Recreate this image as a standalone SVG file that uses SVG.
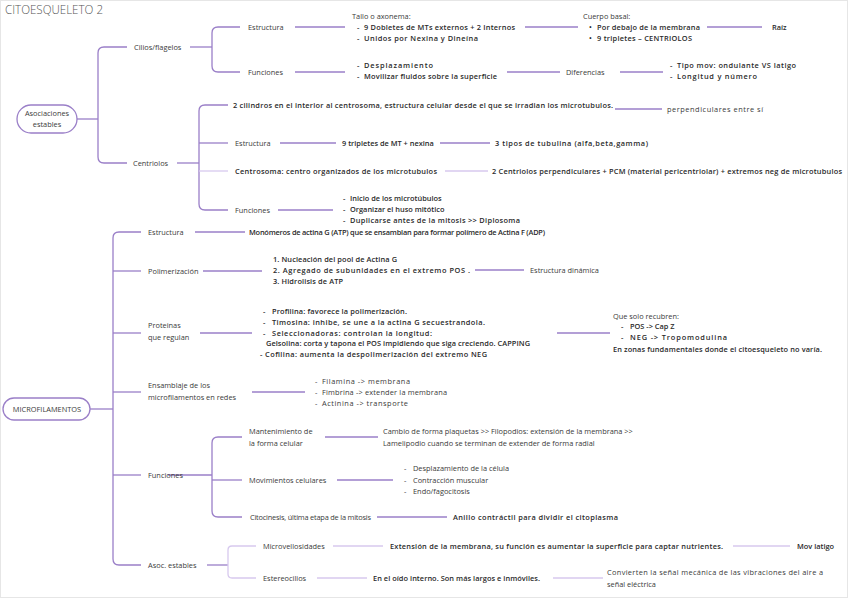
<svg xmlns="http://www.w3.org/2000/svg" width="848" height="599" viewBox="0 0 848 599">
<style>
text{font-family:"Open Sans","Liberation Sans",sans-serif;font-size:7.4px;fill:#3a3a3a}
.b{font-weight:600;fill:#2a2a2a}
.title{font-size:13px;fill:#555;font-weight:300}
.c path,.c line{stroke:#9a7fc8;stroke-width:1.3;fill:none}
.c .l{stroke:#d7c9ee}
.node{fill:#fff;stroke:#9a7fc8;stroke-width:1.3}
</style>
<rect x="0.5" y="0.5" width="847" height="597" fill="#fff" stroke="#e6e6e6"/>
<text class="title" x="5" y="14" textLength="98" lengthAdjust="spacingAndGlyphs">CITOESQUELETO 2</text>

<g class="c" id="connectors">
<line x1="77" y1="119" x2="98" y2="119"/>
<path d="M127 47 H104 Q98 47 98 53 V157 Q98 163 104 163 H127"/>
<line x1="190" y1="47" x2="212" y2="47"/>
<path d="M240 27 H218 Q212 27 212 33 V66 Q212 72 218 72 H240"/>
<line x1="295" y1="27" x2="345" y2="27"/>
<line x1="525" y1="27" x2="578" y2="27"/>
<line x1="707" y1="27" x2="762" y2="27"/>
<line x1="295" y1="72" x2="345" y2="72"/>
<line x1="507" y1="72" x2="560" y2="72"/>
<line x1="620" y1="72" x2="663" y2="72"/>
<line x1="177" y1="163" x2="199" y2="163"/>
<path d="M228 105 H205 Q199 105 199 111 V204 Q199 210 205 210 H228"/>
<line x1="199" y1="143" x2="228" y2="143"/>
<line class="l" x1="199" y1="171" x2="228" y2="171"/>
<line x1="615" y1="109" x2="662" y2="109"/>
<line x1="280" y1="143" x2="336" y2="143"/>
<line x1="440" y1="143" x2="490" y2="143"/>
<line class="l" x1="445" y1="171" x2="488" y2="171"/>
<line x1="278" y1="210" x2="333" y2="210"/>
<line x1="90" y1="409" x2="113" y2="409"/>
<path d="M141 232 H119 Q113 232 113 238 V559 Q113 565 119 565 H141"/>
<line x1="113" y1="271" x2="141" y2="271"/>
<line x1="113" y1="333" x2="141" y2="333"/>
<line x1="113" y1="392" x2="141" y2="392"/>
<line x1="113" y1="475" x2="141" y2="475"/>
<line x1="195" y1="232" x2="245" y2="232"/>
<line x1="203" y1="271" x2="262" y2="271"/>
<line x1="475" y1="270" x2="524" y2="270"/>
<line x1="200" y1="333" x2="252" y2="333"/>
<line x1="557" y1="333" x2="610" y2="333"/>
<line x1="252" y1="392" x2="305" y2="392"/>
<line x1="168" y1="475" x2="212" y2="475"/>
<path d="M242 437 H218 Q212 437 212 443 V511 Q212 517 218 517 H242"/>
<line x1="212" y1="480" x2="242" y2="480"/>
<line x1="325" y1="437" x2="378" y2="437"/>
<line x1="337" y1="480" x2="393" y2="480"/>
<line x1="377" y1="517" x2="447" y2="517"/>
<line x1="207" y1="565" x2="228" y2="565"/>
<path class="l" d="M256 546 H232 Q228 546 228 550 V574 Q228 578 232 578 H256"/>
<line class="l" x1="333" y1="546" x2="383" y2="546"/>
<line class="l" x1="733" y1="546" x2="790" y2="546"/>
<line class="l" x1="317" y1="578" x2="367" y2="578"/>
<line class="l" x1="553" y1="578" x2="603" y2="578"/>
</g>

<g id="asociaciones">
<rect class="node" x="17" y="105" width="60" height="28" rx="14"/>
<text x="47" y="116" text-anchor="middle">Asociaciones</text>
<text x="47" y="127" text-anchor="middle">estables</text>
</g>
<g id="cilios"><text x="134" y="49.5">Cilios/flagelos</text></g>
<g id="cil-estructura"><text x="248" y="29.5">Estructura</text></g>
<g id="tallo">
<text x="352" y="18.5">Tallo o axonema:</text>
<text class="b" x="357" y="29.5">-</text><text class="b" x="364" y="29.5" textLength="151">9 Dobletes de MTs externos + 2 Internos</text>
<text class="b" x="357" y="40.5">-</text><text class="b" x="364" y="40.5" textLength="114">Unidos por Nexina y Dineína</text>
</g>
<g id="cuerpo">
<text x="583" y="18.5">Cuerpo basal:</text>
<text class="b" x="589" y="29.5">•</text><text class="b" x="597" y="29.5" textLength="103">Por debajo de la membrana</text>
<text class="b" x="589" y="40.5">•</text><text class="b" x="597" y="40.5" textLength="95">9 tripletes – CENTRIOLOS</text>
</g>
<g id="raiz"><text class="b" x="772" y="29.5">Raíz</text></g>
<g id="cil-funciones"><text x="248" y="74.5">Funciones</text></g>
<g id="fun-list">
<text class="b" x="357" y="67.5">-</text><text class="b" x="364" y="67.5" textLength="69">Desplazamiento</text>
<text class="b" x="357" y="78.5">-</text><text class="b" x="364" y="78.5" textLength="133">Movilizar fluidos sobre la superficie</text>
</g>
<g id="diferencias"><text x="566" y="74.5">Diferencias</text></g>
<g id="dif-list">
<text class="b" x="670" y="67.5">-</text><text class="b" x="677" y="67.5" textLength="119">Tipo mov: ondulante VS latigo</text>
<text class="b" x="670" y="78.5">-</text><text class="b" x="677" y="78.5" textLength="80">Longitud y número</text>
</g>

<g id="centriolos"><text x="133" y="165.5">Centriolos</text></g>
<g id="cilindros"><text class="b" x="233" y="107.5" textLength="380">2 cilindros en el interior al centrosoma, estructura celular desde el que se irradian los microtubulos.</text></g>
<g id="perpendiculares"><text x="667" y="111.5" textLength="96">perpendiculares entre sí</text></g>
<g id="cen-estructura"><text x="235" y="145.5">Estructura</text></g>
<g id="tripletes"><text class="b" x="342" y="145.5">9 tripletes de MT + nexina</text></g>
<g id="tubulina"><text class="b" x="495" y="145.5" textLength="153">3 tipos de tubulina (alfa,beta,gamma)</text></g>
<g id="centrosoma"><text class="b" x="235" y="173.5" textLength="202">Centrosoma: centro organizados de los microtubulos</text></g>
<g id="dos-centriolos"><text class="b" x="492" y="173.5" textLength="350">2 Centriolos perpendiculares + PCM (material pericentriolar) + extremos neg de microtubulos</text></g>
<g id="cen-funciones"><text x="235" y="212.5">Funciones</text></g>
<g id="cen-fun-list">
<text class="b" x="343" y="200.5">-</text><text class="b" x="350" y="200.5">Inicio de los microtúbulos</text>
<text class="b" x="343" y="211.5">-</text><text class="b" x="350" y="211.5">Organizar el huso mitótico</text>
<text class="b" x="343" y="222.5">-</text><text class="b" x="350" y="222.5" textLength="170">Duplicarse antes de la mitosis &gt;&gt; Diplosoma</text>
</g>

<g id="microfilamentos">
<rect class="node" x="3" y="398" width="87" height="22" rx="11"/>
<text x="47" y="411.5" text-anchor="middle">MICROFILAMENTOS</text>
</g>
<g id="mf-estructura"><text x="148" y="234.5">Estructura</text></g>
<g id="monomeros"><text class="b" x="249" y="234.5" textLength="296">Monómeros de actina G (ATP) que se ensamblan para formar polímero de Actina F (ADP)</text></g>
<g id="polimerizacion"><text x="148" y="273.5">Polimerización</text></g>
<g id="pol-list">
<text class="b" x="273" y="261.5" textLength="124">1. Nucleación del pool de Actina G</text>
<text class="b" x="273" y="272.5" textLength="197">2. Agregado de subunidades en el extremo POS  .</text>
<text class="b" x="273" y="284" textLength="70">3. Hidrolisis de ATP</text>
</g>
<g id="dinamica"><text x="530" y="272.5">Estructura dinámica</text></g>
<g id="proteinas">
<text x="148" y="327.5">Proteinas</text>
<text x="148" y="340">que regulan</text>
</g>
<g id="prot-list">
<text class="b" x="263" y="313.5">-</text><text class="b" x="272" y="313.5" textLength="135">Profilina: favorece la polimerización.</text>
<text class="b" x="263" y="324.5">-</text><text class="b" x="272" y="324.5" textLength="213">Timosina: inhibe, se une a la actina G secuestrandola.</text>
<text class="b" x="263" y="335.5">-</text><text class="b" x="272" y="335.5" textLength="160">Seleccionadoras: controlan la longitud:</text>
<text class="b" x="266" y="345.5" textLength="264">Gelsolina: corta y tapona el POS impidiendo que siga creciendo. CAPPING</text>
<text class="b" x="260" y="356.5" textLength="227">- Cofilina: aumenta la despolimerización del extremo NEG</text>
</g>
<g id="recubren">
<text x="613" y="318.5">Que solo recubren:</text>
<text class="b" x="621" y="328.5">-</text><text class="b" x="630" y="328.5">POS -&gt; Cap Z</text>
<text class="b" x="621" y="340">-</text><text class="b" x="630" y="340" textLength="97">NEG -&gt; Tropomodulina</text>
<text class="b" x="613" y="351.5" textLength="209">En zonas fundamentales donde el citoesqueleto no varía.</text>
</g>
<g id="ensamblaje">
<text x="148" y="387.5">Ensamblaje de los</text>
<text x="148" y="399.5">microfilamentos en redes</text>
</g>
<g id="ens-list">
<text x="315" y="383.5">-</text><text x="322" y="383.5" textLength="88">Filamina -&gt; membrana</text>
<text x="315" y="394.5">-</text><text x="322" y="394.5" textLength="125">Fimbrina -&gt; extender la membrana</text>
<text x="315" y="405.5">-</text><text x="322" y="405.5" textLength="86">Actinina -&gt; transporte</text>
</g>
<g id="mf-funciones"><text x="148" y="477.5">Funciones</text></g>
<g id="mantenimiento">
<text x="249" y="433.5">Mantenimiento de</text>
<text x="249" y="445.5">la forma celular</text>
</g>
<g id="cambio">
<text x="383" y="433.5">Cambio de forma plaquetas &gt;&gt; Filopodios: extensión de la membrana &gt;&gt;</text>
<text x="383" y="445.5">Lamelipodio cuando se terminan de extender de forma radial</text>
</g>
<g id="movimientos"><text x="249" y="482.5">Movimientos celulares</text></g>
<g id="mov-list">
<text x="404" y="470.5">-</text><text x="413" y="470.5">Desplazamiento de la célula</text>
<text x="404" y="482.5">-</text><text x="413" y="482.5">Contracción muscular</text>
<text x="404" y="493.5">-</text><text x="413" y="493.5">Endo/fagocitosis</text>
</g>
<g id="citocinesis"><text x="250" y="519.5" textLength="121">Citocinesis, última etapa de la mitosis</text></g>
<g id="anillo"><text class="b" x="453" y="519.5" textLength="165">Anillo contráctil para dividir el citoplasma</text></g>
<g id="asoc"><text x="148" y="567.5">Asoc. estables</text></g>
<g id="microvellosidades"><text x="263" y="548.5">Microvellosidades</text></g>
<g id="extension"><text class="b" x="390" y="548.5" textLength="333">Extensión de la membrana, su función es aumentar la superficie para captar nutrientes.</text></g>
<g id="mov-latigo"><text class="b" x="797" y="548.5">Mov latigo</text></g>
<g id="estereocilios"><text x="263" y="580.5">Estereocilios</text></g>
<g id="oido"><text class="b" x="373" y="580.5" textLength="167">En el oído interno. Son más largos e inmóviles.</text></g>
<g id="convierten">
<text x="607" y="575" textLength="216">Convierten la señal mecánica de las vibraciones del aire a</text>
<text x="607" y="587">señal eléctrica</text>
</g>
</svg>
